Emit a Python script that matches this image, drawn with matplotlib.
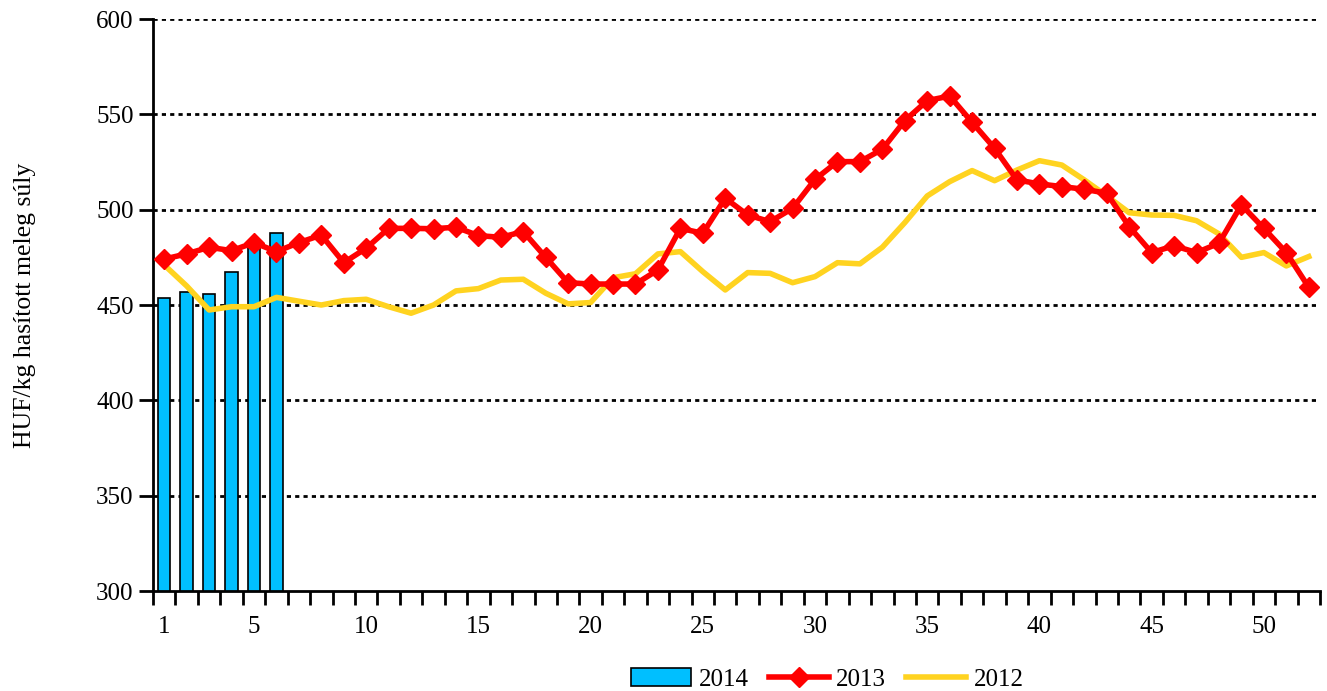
import matplotlib.pyplot as plt
import numpy as np

plt.rcParams['font.family'] = ['Liberation Serif', 'DejaVu Serif']

# heti sorszám
weeks = list(range(1, 53))
# 2014 (oszlop)
v2014 = [453.5, 457, 455.6, 467.2, 482, 487.6]
# 2013
v2013 = [474.1, 476.8, 480.3, 478.5, 482.7, 478, 482.7, 486.7, 472.2, 479.8,
         490.2, 490.2, 490, 490.8, 486.4, 485.5, 488.5, 475, 461.7, 461,
         461, 461, 468.4, 490.2, 487.6, 506, 497.2, 493.7, 500.7, 515.9,
         525.2, 525.2, 531.7, 546.7, 557.2, 559.6, 545.8, 532.2, 515.6, 513.5,
         512.1, 510.7, 508.6, 491.1, 477.5, 481.1, 477.5, 482.4, 502.5, 490.2,
         477.5, 459.3]
# 2012
v2012 = [471, 460, 447.4, 449.1, 449.1, 454, 452, 450, 452.3, 453,
         449.1, 445.7, 450, 457.4, 458.6, 463.1, 463.5, 456.2, 450.6, 451.3,
         464.3, 466.4, 476.8, 478, 467.5, 457.9, 467, 466.6, 461.7, 464.9,
         472.2, 471.6, 480.3, 493.2, 507.2, 514.7, 520.5, 515.2, 520.8, 525.7,
         523.4, 515.6, 507.2, 498.4, 497.2, 497, 494.2, 487.3, 475, 477.5,
         470.5, 475.4]

fig = plt.figure(figsize=(13.27, 6.91), dpi=100)
ax = fig.add_axes([0.1153, 0.1447, 0.8794, 0.8278])

b = ax.bar(weeks[:len(v2014)], v2014, width=0.55, color='#00BFFF', edgecolor='black',
           linewidth=1.2, label='2014', zorder=2)
l13, = ax.plot(weeks, v2013, color='#FF0000', lw=4, marker='D', markersize=10,
               label='2013', zorder=4)
l12, = ax.plot(weeks, v2012, color='#FFD320', lw=4, label='2012', zorder=3)

ax.set_xlim(0.5, 52.5)
ax.set_ylim(300, 600)
ax.set_yticks(range(300, 601, 50))
for yv in range(350, 601, 50):
    ax.axhline(yv, color='black', lw=2, ls=(0, (1.5, 1.5)), zorder=1)

# tick-ek a kategóriák határán, feliratok a közepén
ax.set_xticks(np.arange(0.5, 53, 1))
ax.set_xticklabels([])
ax.set_xticks([1, 5, 10, 15, 20, 25, 30, 35, 40, 45, 50], minor=True)
ax.set_xticklabels(['1', '5', '10', '15', '20', '25', '30', '35', '40', '45', '50'],
                   minor=True, fontsize=18)
ax.tick_params(axis='x', which='major', length=10, width=2, direction='out')
ax.tick_params(axis='x', which='minor', length=0, pad=18)
ax.tick_params(axis='y', length=10, width=2, direction='out', labelsize=18, pad=4)

for s in ['top', 'right']:
    ax.spines[s].set_visible(False)
ax.spines['left'].set_linewidth(2)
ax.spines['bottom'].set_linewidth(2)

ax.set_ylabel('HUF/kg hasított meleg súly', fontsize=18.5, labelpad=43)

ax.legend([b, l13, l12], ['2014', '2013', '2012'], loc='center',
          bbox_to_anchor=(0.578, -0.155), ncol=3, frameon=False,
          fontsize=18, handlelength=2.4, columnspacing=0.8, handletextpad=0.3)

fig.savefig('out.png', dpi=100)
